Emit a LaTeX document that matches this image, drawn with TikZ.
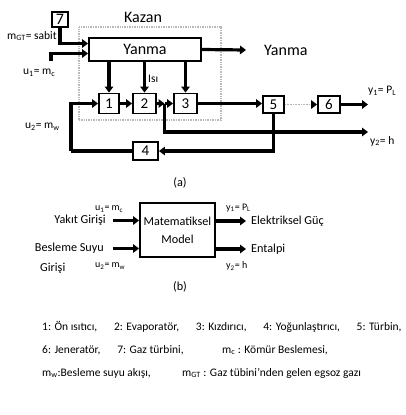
\documentclass[tikz,border=0pt]{standalone}
\usepackage{fontspec}
\setmainfont{Carlito}
\usetikzlibrary{arrows.meta}
\newcommand\lowidx[1]{\textsubscript{#1}}
\begin{document}
\begin{tikzpicture}[x=1pt,y=-1pt,
  blk/.style={draw, line width=1.9pt, inner sep=0pt, font=\fontsize{15}{15}\selectfont},
  pipe/.style={line width=3.2pt},
  flow/.style={line width=3.2pt, -{Triangle[length=6pt,width=8.5pt]}},
  signal/.style={draw=gray!60, line width=1.6pt, dash pattern=on 1pt off 0.6pt,
    -{Triangle[length=6pt,width=8.5pt,color=black]}},
  kazanbox/.style={draw=gray!55, line width=1.6pt, dash pattern=on 1pt off 0.7pt, inner sep=0pt},
  lbl/.style={inner sep=0pt, font=\fontsize{11.5}{11.5}\selectfont},
  big/.style={inner sep=0pt, font=\fontsize{16}{16}\selectfont},
  btxt/.style={inner sep=0pt, font=\fontsize{12.2}{12.2}\selectfont},
  bsub/.style={inner sep=0pt, anchor=west, font=\fontsize{10}{10}\selectfont},
  note/.style={inner sep=0pt, anchor=west, font=\fontsize{11.5}{11.5}\selectfont}]
\useasboundingbox (0,0) rectangle (405,415);

% ---------- (a) boiler / turbine loop ----------
\node[kazanbox, minimum width=142pt, minimum height=93pt] (kazan) at (150,73.5) {};
\node[big] (kazanlbl) at (143,17) {Kazan};

\node[blk, minimum width=112pt, minimum height=23pt, font=\fontsize{16}{16}\selectfont] (yanma) at (145,49.5) {Yanma};
\node[blk, minimum width=16pt, minimum height=15pt, font=\fontsize{16}{16}\selectfont] (b7) at (60,19.5) {7};

\node[blk, minimum width=20pt, minimum height=20pt] (b1) at (109,103.5) {1};
\node[blk, minimum width=23pt, minimum height=20pt] (b2) at (144.5,103.5) {2};
\node[blk, minimum width=23pt, minimum height=20pt] (b3) at (185.5,103.5) {3};
\node[blk, minimum width=21pt, minimum height=17pt] (b5) at (273.5,104.5) {5};
\node[blk, minimum width=22pt, minimum height=17pt] (b6) at (329,104.5) {6};
\node[blk, minimum width=25pt, minimum height=18pt] (b4) at (145.5,151) {4};

% free ends and branch points
\coordinate (u1in) at (51,61);
\coordinate (yout) at (246,50);
\coordinate (split) at (164.5,103.5);
\coordinate (hout) at (368,132);
\coordinate (pout) at (368,104.5);
\coordinate (ret) at (71,151);

% fuel and exhaust gas into the furnace
\draw[flow] (b7.south) |- ([yshift=6pt]yanma.west);
\draw[flow] (u1in) |- ([yshift=-4pt]yanma.west);
\draw[flow] (yanma.east) -- (yout);
\node[big, anchor=west] (yanmaout) at (264,50) {Yanma};

% heat from the furnace into the exchangers
\draw[flow] (yanma.south -| b1) -- (b1.north);
\draw[flow] (yanma.south -| b2) -- (b2.north);
\draw[flow] (yanma.south -| b3) -- (b3.north);
\node[lbl, anchor=west] (isi) at (148,79) {Isı};

% water / steam path
\draw[flow] (b1.east) -- (b2.west);
\draw[flow] (b2.east) -- (split);
\draw[flow] (split) -- (b3.west);
\draw[flow] (split) |- (hout);
\draw[flow] (b3.east) -- (b3.east -| b5.west);
\draw[signal] (b5.east) -- (b6.west);
\draw[flow] (b6.east) -- (pout);
\draw[flow] (b5.south) |- (b4.east);
\draw[pipe] (b4.west) -- (ret);
\draw[flow] (ret) |- (b1.west);

% signal labels
\node[lbl, anchor=west] (mgt) at (7,36) {m\lowidx{GT}= sabit};
\node[lbl, anchor=west] (u1) at (23,73) {u\lowidx{1}= m\lowidx{c}};
\node[lbl, anchor=west] (u2) at (25,127) {u\lowidx{2}= m\lowidx{w}};
\node[lbl, anchor=west] (y1) at (368,91) {y\lowidx{1}= P\lowidx{L}};
\node[lbl, anchor=west] (y2) at (370,141) {y\lowidx{2}= h};
\node[btxt] (capa) at (180,183) {(a)};

% ---------- (b) input/output model ----------
\node[draw, line width=1.9pt, minimum width=75pt, minimum height=54pt, align=center,
  inner sep=0pt, font=\fontsize{12.2}{18}\selectfont] (model) at (177.5,230) {Matematiksel\\Model};
\coordinate (in1) at (113,220.5);
\coordinate (in2) at (113,248.5);
\coordinate (out1) at (246,221);
\coordinate (out2) at (246,249);
\draw[flow] (in1) -- (in1 -| model.west);
\draw[flow] (in2) -- (in2 -| model.west);
\draw[flow] (out1 -| model.east) -- (out1);
\draw[flow] (out2 -| model.east) -- (out2);

\node[btxt, anchor=east] (fuel) at (106,220.5) {Yakıt Girişi};
\node[btxt, anchor=east] (feed) at (104,248.5) {Besleme Suyu};
\node[btxt, anchor=west] (feed2) at (40,268) {Girişi};
\node[btxt, anchor=west] (elec) at (251,221) {Elektriksel Güç};
\node[btxt, anchor=west] (enth) at (251,249) {Entalpi};
\node[bsub] (bu1) at (95,209) {u\lowidx{1}= m\lowidx{c}};
\node[bsub] (bu2) at (95,266) {u\lowidx{2}= m\lowidx{w}};
\node[bsub] (by1) at (226,208) {y\lowidx{1}= P\lowidx{L}};
\node[bsub] (by2) at (226,266) {y\lowidx{2}= h};
\node[btxt] (capb) at (180,287) {(b)};

% ---------- legend ----------
\node[note] (leg1) at (42,327) {1: Ön ısıtıcı,\hspace{1.45em}2: Evaporatör,\hspace{1.45em}3: Kızdırıcı,\hspace{1.45em}4: Yoğunlaştırıcı,\hspace{1.45em}5: Türbin,};
\node[note] (leg2) at (42,350) {6: Jeneratör,\hspace{1.45em}7: Gaz türbini,};
\node[note] (leg3) at (222,350) {m\lowidx{c} : Kömür Beslemesi,};
\node[note] (leg4) at (42,373) {m\lowidx{w}:Besleme suyu akışı,};
\node[note] (leg5) at (182,373) {m\lowidx{GT} : Gaz tübini'nden gelen egsoz gazı};
\end{tikzpicture}
\end{document}
